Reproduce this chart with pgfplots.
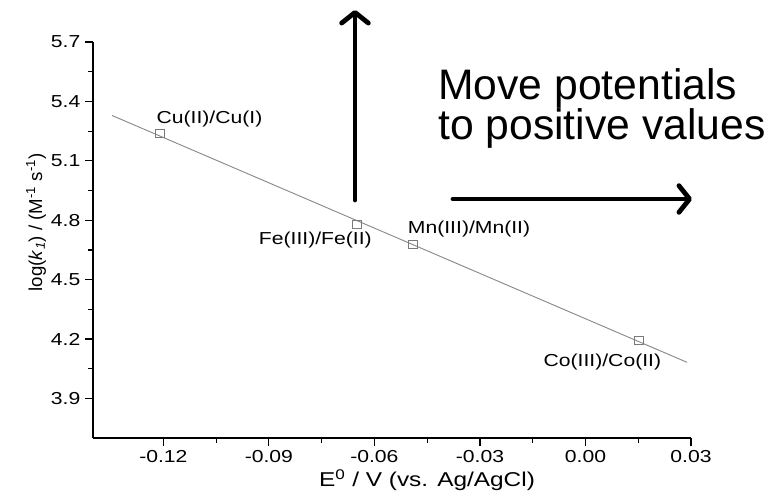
\documentclass[border=0pt]{standalone}
\usepackage{fontspec}
\usepackage{pgfplots}
\pgfplotsset{compat=1.18}
\usetikzlibrary{arrows.meta}
\setmainfont{Liberation Sans}
\newfontfamily\chartfont[FakeStretch=1.22]{Liberation Sans}
\definecolor{fitgray}{HTML}{8A8A8A}
\definecolor{markgray}{HTML}{7A7A7A}

\begin{document}
\begin{tikzpicture}
% canvas: 1 px of the reference = 0.75pt, origin at the axis corner
\useasboundingbox (-69.75pt,-46.5pt) rectangle (506.25pt,328.5pt);
\begin{axis}[
  at={(0,0)}, anchor=south west,
  scale only axis,
  width=448.5pt, height=297pt,
  xmin=-0.14, xmax=0.03,
  ymin=3.7, ymax=5.7,
  axis x line*=bottom, axis y line*=left,
  axis line style={line width=0.9pt},
  xtick={-0.12,-0.09,-0.06,-0.03,0,0.03},
  ytick={3.9,4.2,4.5,4.8,5.1,5.4,5.7},
  minor tick num=1,
  tick align=outside,
  major tick length=6pt, minor tick length=3.5pt,
  tick style={line width=0.9pt, black},
  /pgf/number format/assume math mode=true,
  xticklabel style={font=\chartfont\fontsize{13}{15}\selectfont,
    /pgf/number format/.cd, fixed, fixed zerofill, precision=2},
  yticklabel style={font=\chartfont\fontsize{13}{15}\selectfont,
    /pgf/number format/.cd, fixed, fixed zerofill, precision=1},
  xlabel={E\textsuperscript{0} / V (vs. Ag/AgCl)},
  xlabel style={font=\chartfont\fontsize{15}{17}\selectfont,
    at={(axis description cs:0.5585,0)}, anchor=base, yshift=-36pt},
  ylabel={log(\textit{k}\textsubscript{\textit{1}}) / (M\textsuperscript{-1} s\textsuperscript{-1})},
  ylabel style={font=\fontsize{14}{16}\selectfont,
    at={(axis description cs:0,0.545)}, anchor=center, rotate=0, yshift=42.75pt},
  clip=false,
]
\addplot[fitgray, line width=0.7pt] coordinates {(-0.1346,5.329) (0.0289,4.082)};
\addplot[only marks, mark=square, mark size=3.3pt,
  mark options={draw=markgray, line width=0.6pt, fill=white}] coordinates {
  (-0.1209,5.238)
  (-0.0649,4.779)
  (-0.0490,4.678)
  (0.0151,4.193)
};
\node[font=\chartfont\fontsize{13}{15}\selectfont] at (axis cs:-0.1069,5.309) {Cu(II)/Cu(I)};
\node[font=\chartfont\fontsize{13}{15}\selectfont] at (axis cs:-0.0768,4.698) {Fe(III)/Fe(II)};
\node[font=\chartfont\fontsize{13}{15}\selectfont] at (axis cs:-0.0331,4.754) {Mn(III)/Mn(II)};
\node[font=\chartfont\fontsize{13}{15}\selectfont] at (axis cs:0.0048,4.082) {Co(III)/Co(II)};
\end{axis}
% annotation
\draw[line width=3.6pt, line cap=round, -{Straight Barb[length=8pt,width=20pt,line width=3.6pt, round]}]
  (196.5pt,178.5pt) -- (196.5pt,321pt);
\draw[line width=3.6pt, line cap=round, -{Straight Barb[length=8pt,width=20pt,line width=3.6pt, round]}]
  (270pt,179.25pt) -- (449.25pt,179.25pt);
\node[anchor=base west, inner sep=0pt, font=\fontsize{32}{38}\selectfont] at (258.75pt,253.5pt) {Move potentials};
\node[anchor=base west, inner sep=0pt, font=\fontsize{32}{38}\selectfont] at (258.75pt,223.5pt) {to positive values};
\end{tikzpicture}
\end{document}
